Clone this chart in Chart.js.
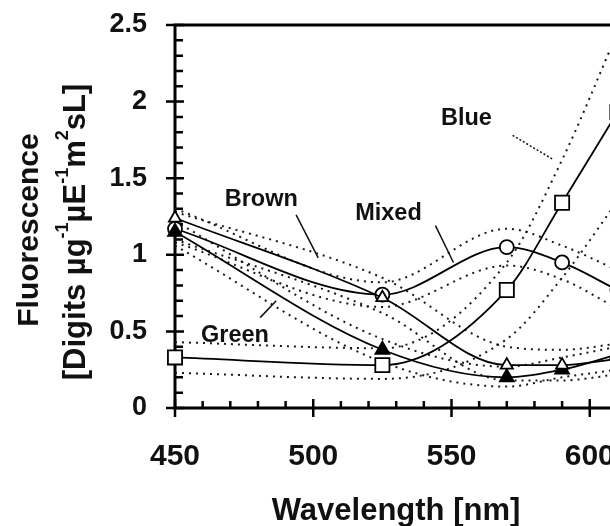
<!DOCTYPE html>
<html lang="en">
<head>
<meta charset="UTF-8">
<title>Fluorescence spectra</title>
<script src="https://cdn.jsdelivr.net/npm/chart.js"></script>
<style>
  html, body { margin: 0; padding: 0; overflow: hidden; background: #fff; }
  #wrap { width: 759px; height: 526px; }
</style>
</head>
<body>
<div id="wrap"><canvas id="fluo"></canvas></div>
<script>
// excitation wavelengths (nm)
const wavelengths = [450, 525, 570, 590, 610];

// mean fluorescence per group, plus dotted upper / lower bands
const blue    = [0.33, 0.28, 0.77, 1.34, 1.93];
const blueHi  = [0.43, 0.39, 0.95, 1.62, 2.45];
const blueLo  = [0.23, 0.19, 0.45, 0.85, 1.35];

const mixed   = [1.17, 0.74, 1.05, 0.95, 0.77];
const mixedHi = [1.30, 0.82, 1.17, 1.06, 0.90];
const mixedLo = [1.08, 0.66, 0.93, 0.84, 0.65];

const brown   = [1.24, 0.72, 0.28, 0.28, 0.32];
const brownHi = [1.28, 0.85, 0.40, 0.38, 0.42];
const brownLo = [1.10, 0.62, 0.18, 0.18, 0.22];

const green   = [1.15, 0.38, 0.20, 0.25, 0.35];
const greenHi = [1.22, 0.45, 0.27, 0.33, 0.40];
const greenLo = [1.06, 0.30, 0.14, 0.20, 0.25];

const xTickStep = 50;
const yTickStep = 0.5;

// series labels with their pointer lines, given in data units
const callouts = [
  { text: 'Brown', at: [481.2, 1.36], from: [493.8, 1.26], to: [501.8, 0.98], dash: [] },
  { text: 'Mixed', at: [527.2, 1.27], from: [544.2, 1.19], to: [550.7, 0.95], dash: [] },
  { text: 'Green', at: [471.7, 0.47], from: [480.8, 0.59], to: [486.6, 0.70], dash: [] },
  { text: 'Blue',  at: [555.4, 1.89], from: [572.1, 1.78], to: [587.0, 1.62], dash: [2, 2] }
];

const FONT = '"Liberation Sans", Arial, sans-serif';

const pts = arr => wavelengths.map((w, i) => ({ x: w, y: arr[i] }));

function band(arr) {
  return {
    data: pts(arr), borderColor: '#1a1a1a', borderWidth: 2, borderDash: [2, 5],
    pointRadius: 0, cubicInterpolationMode: 'monotone', clip: false
  };
}

function series(arr, shape, radius, fill) {
  return {
    data: pts(arr), borderColor: '#000', borderWidth: 1.8, cubicInterpolationMode: 'monotone',
    pointStyle: shape, pointRadius: radius, pointBorderWidth: 1.8,
    pointBorderColor: '#000', pointBackgroundColor: fill, clip: false
  };
}

const frame = {
  id: 'frame',
  beforeDatasetsDraw(chart) {
    const { ctx, chartArea: a, scales: { x, y } } = chart;
    ctx.save();
    ctx.strokeStyle = '#000';
    ctx.lineWidth = 3;
    ctx.beginPath();
    ctx.moveTo(a.left - 1.5, a.top); ctx.lineTo(a.right, a.top);
    ctx.moveTo(a.left, a.top); ctx.lineTo(a.left, a.bottom + 1.5);
    ctx.moveTo(a.left - 1.5, a.bottom); ctx.lineTo(a.right, a.bottom);
    ctx.stroke();

    ctx.lineWidth = 2.5;
    ctx.beginPath();
    for (let i = 0; i <= 25; i++) {
      const py = y.getPixelForValue(i / 10);
      if (i % 5 === 0) { ctx.moveTo(a.left - 9, py); ctx.lineTo(a.left + 9, py); }
      else { ctx.moveTo(a.left, py); ctx.lineTo(a.left + 8, py); }
    }
    for (let w = x.min; w <= x.max; w += 10) {
      const px = x.getPixelForValue(w);
      if (w % 50 === 0) { ctx.moveTo(px, a.bottom - 9); ctx.lineTo(px, a.bottom + 9); }
      else { ctx.moveTo(px, a.bottom); ctx.lineTo(px, a.bottom - 7); }
    }
    ctx.stroke();
    ctx.restore();
  },
  afterDraw(chart) {
    const { ctx, scales: { x, y } } = chart;
    ctx.save();
    ctx.fillStyle = '#111';
    ctx.strokeStyle = '#111';

    // callouts
    ctx.font = 'bold 23.5px ' + FONT;
    ctx.textAlign = 'center';
    ctx.textBaseline = 'middle';
    callouts.forEach(c => {
      ctx.fillText(c.text, x.getPixelForValue(c.at[0]), y.getPixelForValue(c.at[1]));
      ctx.lineWidth = 1.5;
      ctx.setLineDash(c.dash);
      ctx.beginPath();
      ctx.moveTo(x.getPixelForValue(c.from[0]), y.getPixelForValue(c.from[1]));
      ctx.lineTo(x.getPixelForValue(c.to[0]), y.getPixelForValue(c.to[1]));
      ctx.stroke();
      ctx.setLineDash([]);
    });

    // x title
    ctx.font = 'bold 31px ' + FONT;
    ctx.fillText('Wavelength [nm]', 396, 511);

    // y title, two rotated lines
    ctx.save();
    ctx.translate(30, 230);
    ctx.rotate(-Math.PI / 2);
    ctx.font = 'bold 30px ' + FONT;
    ctx.fillText('Fluorescence', 0, 0);
    ctx.restore();

    const parts = [
      ['[Digits µg', false], ['-1', true], ['µE', false], ['-1', true],
      ['m', false], ['2', true], ['sL]', false]
    ];
    const big = 'bold 31px ' + FONT, small = 'bold 18px ' + FONT;
    let total = 0;
    parts.forEach(p => { ctx.font = p[1] ? small : big; total += ctx.measureText(p[0]).width; });
    ctx.save();
    ctx.translate(76, 232);
    ctx.rotate(-Math.PI / 2);
    ctx.textAlign = 'left';
    let cx = -total / 2;
    parts.forEach(p => {
      ctx.font = p[1] ? small : big;
      ctx.fillText(p[0], cx, p[1] ? -13 : 0);
      cx += ctx.measureText(p[0]).width;
    });
    ctx.restore();
    ctx.restore();
  }
};

new Chart(document.getElementById('fluo'), {
  type: 'line',
  data: {
    // lower index is drawn on top
    datasets: [
      series(blue, 'rect', 10, '#fff'),
      series(brown, 'triangle', 7, '#fff'),
      series(green, 'triangle', 8, '#000'),
      series(mixed, 'circle', 7, '#fff'),
      band(blueHi), band(blueLo),
      band(mixedHi), band(mixedLo),
      band(brownHi), band(brownLo),
      band(greenHi), band(greenLo)
    ]
  },
  options: {
    responsive: true,
    maintainAspectRatio: false,
    animation: false,
    devicePixelRatio: 1,
    layout: { padding: { top: 25, right: 0, bottom: 0, left: 0 } },
    plugins: { legend: { display: false }, tooltip: { enabled: false } },
    scales: {
      x: {
        type: 'linear', min: 450, max: 650,
        afterFit(s) { s.height = 118; },
        grid: { display: false, drawTicks: false },
        border: { display: false },
        ticks: {
          stepSize: xTickStep, autoSkip: false, maxRotation: 0, padding: 31, color: '#111',
          font: { family: FONT, size: 30, weight: 'bold' },
          callback: v => (v >= 650 ? '' : v)
        }
      },
      y: {
        min: 0, max: 2.5,
        afterFit(s) { s.width = 175; s.paddingTop = 0; s.paddingBottom = 0; },
        grid: { display: false, drawTicks: false },
        border: { display: false },
        ticks: {
          stepSize: yTickStep, padding: 28, color: '#111',
          font: { family: FONT, size: 27, weight: 'bold' },
          callback: v => String(+v.toFixed(1))
        }
      }
    }
  },
  plugins: [frame]
});
</script>
</body>
</html>
